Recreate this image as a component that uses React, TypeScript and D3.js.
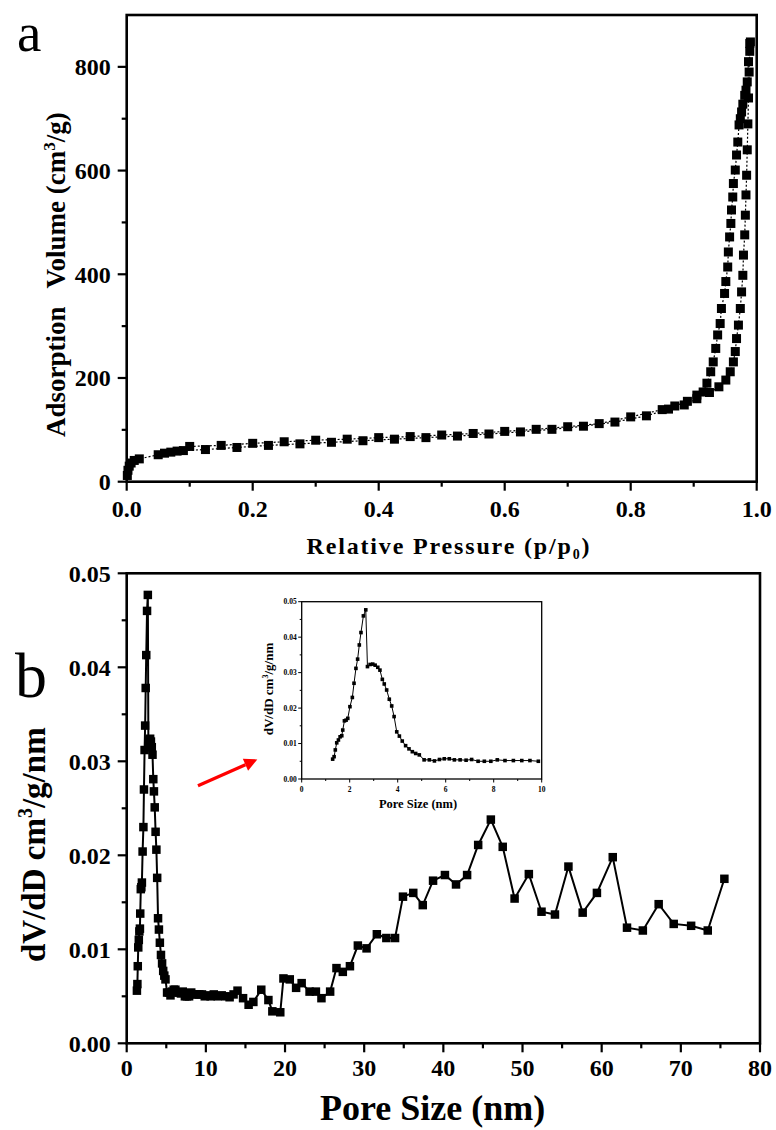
import React from 'react';
import * as d3 from 'd3';

const FONT = '"Liberation Serif", "Times New Roman", Times, serif';

// ---------- Panel a: N2 adsorption / desorption isotherm ----------
const adsP = [0.001, 0.002, 0.004, 0.007, 0.012, 0.02, 0.05, 0.06, 0.07, 0.08, 0.09, 0.125, 0.175, 0.225, 0.275, 0.325, 0.375, 0.425, 0.475, 0.525, 0.575, 0.625, 0.675, 0.725, 0.775, 0.825, 0.86, 0.885, 0.905, 0.925, 0.94, 0.951, 0.958, 0.963, 0.966, 0.968, 0.971, 0.974, 0.976, 0.978, 0.979, 0.981, 0.982, 0.983, 0.984, 0.985, 0.986, 0.987, 0.988, 0.989];
const adsV = [12, 22, 30, 36, 41, 44, 52, 55, 57, 59, 60, 62, 66, 70, 73, 76, 79, 82, 85, 88, 92, 96, 101, 107, 115, 127, 140, 148, 160, 172, 183, 196, 212, 231, 251, 276, 302, 334, 366, 398, 437, 476, 514, 553, 591, 640, 690, 740, 790, 830];
const desP = [0.99, 0.989, 0.987, 0.985, 0.983, 0.981, 0.978, 0.976, 0.974, 0.972, 0.97, 0.968, 0.966, 0.963, 0.962, 0.96, 0.959, 0.957, 0.955, 0.954, 0.951, 0.949, 0.944, 0.942, 0.938, 0.935, 0.931, 0.927, 0.921, 0.915, 0.905, 0.89, 0.87, 0.85, 0.8, 0.75, 0.7, 0.65, 0.6, 0.55, 0.5, 0.45, 0.4, 0.35, 0.3, 0.25, 0.2, 0.15, 0.1];
const desV = [848, 845, 810, 771, 755, 745, 728, 713, 700, 688, 655, 630, 601, 575, 549, 524, 498, 472, 443, 414, 386, 363, 334, 305, 283, 257, 231, 212, 190, 173, 167, 155, 146, 139, 125, 112, 106, 101, 97, 93, 90, 87, 85, 82, 80, 77, 74, 70, 68];
const aXTicks = [0, 0.2, 0.4, 0.6, 0.8, 1.0];
const aXMinor = [0.1, 0.3, 0.5, 0.7, 0.9];
const aYTicks = [0, 200, 400, 600, 800];
const aYMinor = [100, 300, 500, 700];

// ---------- Panel b: pore size distribution ----------
const poreSize = [1.29, 1.35, 1.4, 1.46, 1.53, 1.6, 1.67, 1.71, 1.78, 1.85, 1.92, 2.01, 2.11, 2.18, 2.26, 2.33, 2.4, 2.47, 2.57, 2.67, 2.74, 2.85, 2.96, 3.06, 3.17, 3.26, 3.36, 3.44, 3.54, 3.65, 3.75, 3.85, 3.96, 4.07, 4.19, 4.33, 4.47, 4.61, 4.75, 4.9, 5.1, 5.32, 5.53, 5.74, 5.94, 6.15, 6.36, 6.6, 6.85, 7.08, 7.35, 7.61, 7.88, 8.15, 8.47, 8.82, 9.17, 9.51, 9.86, 10.2, 10.6, 11.0, 11.5, 12.0, 12.5, 13.0, 13.5, 14.0, 14.7, 15.4, 16.0, 17.0, 17.9, 18.4, 19.4, 19.8, 20.6, 21.4, 22.1, 23.1, 23.9, 24.6, 25.7, 26.5, 27.3, 28.2, 29.2, 30.3, 31.6, 32.8, 33.9, 34.9, 36.2, 37.4, 38.7, 40.2, 41.6, 43.0, 44.4, 46.0, 47.5, 49.0, 50.8, 52.4, 54.1, 55.8, 57.6, 59.4, 61.4, 63.2, 65.2, 67.2, 69.1, 71.3, 73.4, 75.5];
const dVdD = [0.0056, 0.0063, 0.0082, 0.0102, 0.011, 0.0119, 0.0122, 0.0138, 0.0164, 0.0166, 0.0171, 0.0204, 0.023, 0.027, 0.0312, 0.0338, 0.0378, 0.0413, 0.046, 0.0477, 0.0317, 0.0323, 0.0324, 0.0321, 0.0315, 0.0307, 0.0281, 0.0268, 0.0251, 0.0225, 0.0206, 0.0176, 0.0133, 0.0121, 0.0107, 0.0094, 0.0085, 0.0077, 0.0072, 0.0068, 0.0054, 0.0054, 0.0051, 0.0055, 0.0057, 0.0057, 0.0054, 0.0054, 0.0053, 0.0055, 0.005, 0.005, 0.005, 0.0054, 0.0052, 0.0052, 0.0052, 0.0052, 0.005, 0.0051, 0.005, 0.0052, 0.005, 0.0051, 0.005, 0.0049, 0.0052, 0.0056, 0.0048, 0.0041, 0.0044, 0.0057, 0.0046, 0.0034, 0.0033, 0.0069, 0.0068, 0.0059, 0.0064, 0.0055, 0.0055, 0.0048, 0.0055, 0.008, 0.0076, 0.0082, 0.0104, 0.0101, 0.0116, 0.0112, 0.0112, 0.0156, 0.016, 0.0147, 0.0173, 0.0179, 0.0169, 0.0179, 0.0211, 0.0238, 0.0209, 0.0154, 0.018, 0.014, 0.0137, 0.0188, 0.0139, 0.016, 0.0198, 0.0123, 0.012, 0.0148, 0.0127, 0.0125, 0.012, 0.0175];
const bXTicks = [0, 10, 20, 30, 40, 50, 60, 70, 80];
const bXMinor = [5, 15, 25, 35, 45, 55, 65, 75];
const bYTicks = [0, 0.01, 0.02, 0.03, 0.04, 0.05];
const bYMinor = [0.005, 0.015, 0.025, 0.035, 0.045];
const insetXTicks = [0, 2, 4, 6, 8, 10];
const insetXMinor = [1, 3, 5, 7, 9];
const insetMaxPore = 10;
// red arrow annotation, in panel b data units (pore size, dV/dD)
const arrowFrom = [9.0, 0.0274];
const arrowTo = [16.5, 0.0302];

type Pt = [number, number];

function Squares({ pts, size }: { pts: Pt[]; size: number }) {
  return (
    <g fill="#000">
      {pts.map((p, i) => (
        <rect key={i} x={p[0] - size / 2} y={p[1] - size / 2} width={size} height={size} />
      ))}
    </g>
  );
}

function Frame({ x0, x1, y0, y1, sw }: { x0: number; x1: number; y0: number; y1: number; sw: number }) {
  return <rect x={x0} y={y0} width={x1 - x0} height={y1 - y0} fill="none" stroke="#000" strokeWidth={sw} />;
}

export default function App() {
  // Panel a scales
  const xA = d3.scaleLinear().domain([0, 1]).range([126.7, 756.7]);
  const yA = d3.scaleLinear().domain([0, 900]).range([481.7, 15]);
  // Panel b scales
  const xB = d3.scaleLinear().domain([0, 80]).range([126.7, 760]);
  const yB = d3.scaleLinear().domain([0, 0.05]).range([1043.3, 573.3]);
  // Inset scales
  const xI = d3.scaleLinear().domain([0, 10]).range([301.7, 541.7]);
  const yI = d3.scaleLinear().domain([0, 0.05]).range([779, 601.7]);

  const adsPts: Pt[] = adsP.map((p, i) => [xA(p), yA(adsV[i])]);
  const desPts: Pt[] = desP.map((p, i) => [xA(p), yA(desV[i])]);
  const bPts: Pt[] = poreSize.map((p, i) => [xB(p), yB(dVdD[i])]);
  const iPts: Pt[] = poreSize
    .map((p, i) => [p, dVdD[i]] as Pt)
    .filter((d) => d[0] <= insetMaxPore)
    .map((d) => [xI(d[0]), yI(d[1])] as Pt);

  const line = d3.line<Pt>().x((d) => d[0]).y((d) => d[1]);

  const fmt2 = d3.format('.2f');
  const fmt1 = d3.format('.1f');

  // arrow
  const ax0 = xB(arrowFrom[0]), ay0 = yB(arrowFrom[1]);
  const ax1 = xB(arrowTo[0]), ay1 = yB(arrowTo[1]);
  const ang = Math.atan2(ay1 - ay0, ax1 - ax0);
  const hl = 13, hw = 6.5;
  const bx = ax1 - hl * Math.cos(ang), by = ay1 - hl * Math.sin(ang);
  const head = [
    [ax1, ay1],
    [bx + hw * Math.sin(ang), by - hw * Math.cos(ang)],
    [bx - hw * Math.sin(ang), by + hw * Math.cos(ang)],
  ]
    .map((p) => p.join(','))
    .join(' ');

  return (
    <svg
      width={776}
      height={1130}
      style={{ position: 'absolute', left: 0, top: 0, background: '#fff' }}
      fontFamily={FONT}
    >
      <rect x={0} y={0} width={776} height={1130} fill="#fff" />

      {/* ================= Panel a ================= */}
      <text x={17} y={51} fontSize={55} fill="#000">a</text>
      {/* data */}
      <path d={line(adsPts) || ''} fill="none" stroke="#000" strokeWidth={1.2} strokeDasharray="2,2" />
      <path d={line(desPts) || ''} fill="none" stroke="#000" strokeWidth={1.2} strokeDasharray="2,2" />
      <Squares pts={adsPts} size={9} />
      <Squares pts={desPts} size={9} />
      <Frame x0={xA(0)} x1={xA(1)} y0={yA(900)} y1={yA(0)} sw={2.6} />
      {/* ticks */}
      <g stroke="#000" strokeWidth={2.2}>
        {aYTicks.map((t) => (
          <line key={t} x1={xA(0) - 9} x2={xA(0)} y1={yA(t)} y2={yA(t)} />
        ))}
        {aYMinor.map((t) => (
          <line key={t} x1={xA(0) - 5} x2={xA(0)} y1={yA(t)} y2={yA(t)} />
        ))}
        {aXTicks.map((t) => (
          <line key={t} x1={xA(t)} x2={xA(t)} y1={yA(0)} y2={yA(0) + 9} />
        ))}
        {aXMinor.map((t) => (
          <line key={t} x1={xA(t)} x2={xA(t)} y1={yA(0)} y2={yA(0) + 5} />
        ))}
      </g>
      <g fontSize={24} fontWeight="bold" fill="#000">
        {aYTicks.map((t) => (
          <text key={t} x={xA(0) - 16} y={yA(t)} dy="0.35em" textAnchor="end">{t}</text>
        ))}
        {aXTicks.map((t) => (
          <text key={t} x={xA(t)} y={yA(0) + 35} textAnchor="middle">{fmt1(t)}</text>
        ))}
      </g>
      <text x={448} y={554} fontSize={24} fontWeight="bold" textAnchor="middle" textLength={283} lengthAdjust="spacing">
        Relative Pressure (p/p<tspan dy={5} fontSize={14}>0</tspan><tspan dy={-5}>)</tspan>
      </text>
      <text transform="translate(65,437) rotate(-90)" fontSize={27} fontWeight="bold" textAnchor="start">
        Adsorption<tspan dx={18}>Volume (cm</tspan><tspan dy={-10} fontSize={17}>3</tspan><tspan dy={10}>/g)</tspan>
      </text>

      {/* ================= Panel b ================= */}
      <text x={15} y={697} fontSize={64} fill="#000">b</text>
      <path d={line(bPts) || ''} fill="none" stroke="#000" strokeWidth={2} />
      <Squares pts={bPts} size={8.5} />
      <Frame x0={xB(0)} x1={xB(80)} y0={yB(0.05)} y1={yB(0)} sw={2.6} />
      <g stroke="#000" strokeWidth={2.2}>
        {bYTicks.map((t) => (
          <line key={t} x1={xB(0) - 9} x2={xB(0)} y1={yB(t)} y2={yB(t)} />
        ))}
        {bYMinor.map((t) => (
          <line key={t} x1={xB(0) - 5} x2={xB(0)} y1={yB(t)} y2={yB(t)} />
        ))}
        {bXTicks.map((t) => (
          <line key={t} x1={xB(t)} x2={xB(t)} y1={yB(0)} y2={yB(0) + 9} />
        ))}
        {bXMinor.map((t) => (
          <line key={t} x1={xB(t)} x2={xB(t)} y1={yB(0)} y2={yB(0) + 5} />
        ))}
      </g>
      <g fontSize={24} fontWeight="bold" fill="#000">
        {bYTicks.map((t) => (
          <text key={t} x={xB(0) - 16} y={yB(t)} dy="0.35em" textAnchor="end">{fmt2(t)}</text>
        ))}
        {bXTicks.map((t) => (
          <text key={t} x={xB(t)} y={yB(0) + 33} textAnchor="middle">{t}</text>
        ))}
      </g>
      <text x={320} y={1120} fontSize={36} fontWeight="bold" textAnchor="start">Pore Size (nm)</text>
      <text transform="translate(45,962) rotate(-90)" fontSize={33} fontWeight="bold" textAnchor="start">
        dV/dD cm<tspan dy={-13} fontSize={20}>3</tspan><tspan dy={13}>/g/nm</tspan>
      </text>

      {/* red arrow */}
      <line x1={ax0} y1={ay0} x2={bx} y2={by} stroke="#f00" strokeWidth={3.2} />
      <polygon points={head} fill="#f00" />

      {/* ================= Inset ================= */}
      <path d={line(iPts) || ''} fill="none" stroke="#000" strokeWidth={1} />
      <Squares pts={iPts} size={3.6} />
      <Frame x0={xI(0)} x1={xI(10)} y0={yI(0.05)} y1={yI(0)} sw={1.3} />
      <g stroke="#000" strokeWidth={1}>
        {bYTicks.map((t) => (
          <line key={t} x1={xI(0) - 3.5} x2={xI(0)} y1={yI(t)} y2={yI(t)} />
        ))}
        {bYMinor.map((t) => (
          <line key={t} x1={xI(0) - 2} x2={xI(0)} y1={yI(t)} y2={yI(t)} />
        ))}
        {insetXTicks.map((t) => (
          <line key={t} x1={xI(t)} x2={xI(t)} y1={yI(0)} y2={yI(0) + 3.5} />
        ))}
        {insetXMinor.map((t) => (
          <line key={t} x1={xI(t)} x2={xI(t)} y1={yI(0)} y2={yI(0) + 2} />
        ))}
      </g>
      <g fontSize={7.5} fontWeight="bold" fill="#000">
        {bYTicks.map((t) => (
          <text key={t} x={xI(0) - 5} y={yI(t)} dy="0.35em" textAnchor="end">{fmt2(t)}</text>
        ))}
        {insetXTicks.map((t) => (
          <text key={t} x={xI(t)} y={yI(0) + 13} textAnchor="middle">{t}</text>
        ))}
      </g>
      <text x={418} y={808} fontSize={12.5} fontWeight="bold" textAnchor="middle">Pore Size (nm)</text>
      <text transform="translate(273,689) rotate(-90)" fontSize={13} fontWeight="bold" textAnchor="middle">
        dV/dD cm<tspan dy={-5} fontSize={8}>3</tspan><tspan dy={5}>/g/nm</tspan>
      </text>
    </svg>
  );
}
